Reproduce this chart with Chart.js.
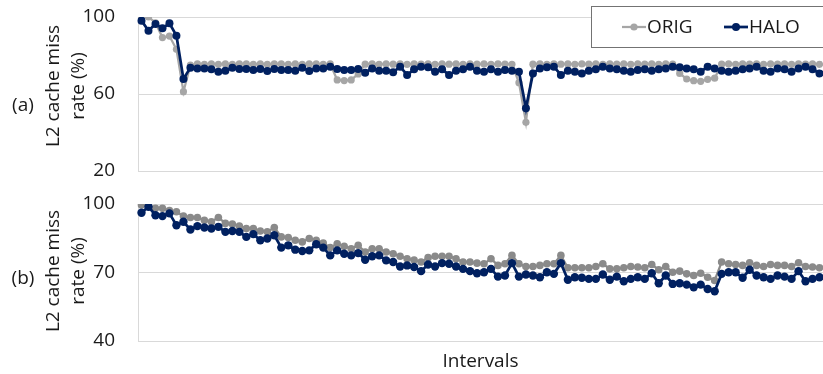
<!DOCTYPE html>
<html>
<head>
<meta charset="utf-8">
<script src="https://cdn.jsdelivr.net/npm/chart.js@4.4.1/dist/chart.umd.min.js"></script>
<style>
  html, body { margin: 0; padding: 0; background: #ffffff; }
  #wrap { position: relative; width: 823px; height: 374px; overflow: hidden; }
  .pane { position: absolute; left: 0; width: 823px; }
  #pa { top: 0; height: 186px; }
  #pb { top: 186px; height: 188px; }
</style>
</head>
<body>
<div id="wrap">
  <div class="pane" id="pa"><canvas id="ca"></canvas></div>
  <div class="pane" id="pb"><canvas id="cb"></canvas></div>
</div>
<script>
// Sampling intervals (x categories)
const intervals = Array.from({ length: 98 }, (_, i) => String(i + 1));

const seriesNames = ['ORIG', 'HALO'];
const yTitle = ['L2 cache miss', 'rate (%)'];
const xTitle = 'Intervals';

// (a) L2 cache miss rate (%)
const origA = [
  99.5, 100, 97.0, 89.3, 90.1, 83.2, 61.2,
  75.0, 75.6, 75.4, 75.6, 75.4, 75.6, 75.4, 75.6, 75.6, 75.4, 75.6, 75.4, 75.6, 75.6, 75.4, 75.6, 75.4, 75.6, 75.6, 75.4, 75.6,
  67.3, 67.0, 67.3, 70.4,
  75.5, 75.6, 75.4, 75.6, 75.5, 75.6, 75.4, 75.6, 75.5, 75.6, 75.4, 75.6, 75.5, 75.6, 75.4, 75.6, 75.5, 75.6, 75.4, 75.6, 75.5, 75.4,
  65.9, 45.3,
  75.5, 75.6, 75.4, 75.6, 75.5, 75.6, 75.4, 75.6, 75.5, 75.6, 75.4, 75.6, 75.5, 75.6, 75.4, 75.6, 75.5, 75.6, 75.4, 75.6, 75.5,
  70.7, 67.8, 66.9, 66.6, 67.6, 68.2,
  75.5, 75.6, 75.4, 75.6, 75.5, 75.6, 75.4, 75.6, 75.5, 75.6, 75.4, 75.6, 75.5, 75.6, 75.4
];
const haloA = [
  98.1, 92.9, 96.4, 94.1, 96.7, 90.3, 67.8,
  73.7, 73.3, 73.3, 72.8, 71.6, 72.1, 73.7, 73.0, 73.0, 72.5, 73.0, 71.9, 73.0, 72.5, 72.5, 72.1, 73.7, 71.9, 73.3, 73.3, 74.2, 73.0, 72.5, 72.5, 73.0, 71.1, 73.3, 72.1,
  72.1, 71.3, 74.2, 69.9, 72.8, 74.2, 73.9, 71.6, 72.8, 69.9, 72.1, 72.8, 74.2, 72.1, 71.6, 72.8, 71.6, 72.5, 72.1, 71.6,
  52.6, 70.7, 73.3, 73.9, 74.2, 69.9, 72.1, 71.6, 70.7, 72.1, 72.8,
  74.2, 73.3, 72.8, 72.1, 71.6, 72.5, 72.8, 72.1, 72.8, 73.3, 74.2, 73.9, 73.3, 72.8, 71.6, 74.2,
  73.3, 72.1, 71.6, 72.1, 72.8, 73.3, 74.2, 72.1, 71.6, 73.3, 72.8, 71.6, 73.3, 74.2, 72.8, 70.7
];

// (b) L2 cache miss rate (%)
const origB = [
  99.6, 99.1, 98.1, 98.1, 97.1, 96.6, 94.7, 94.1, 94.1, 92.9, 92.2, 94.1, 91.5, 91.2, 90.3, 89.3, 89.3,
  88.2, 87.8, 89.7, 85.6, 85.3, 84.1, 83.4, 84.9, 84.1, 82.9, 80.9, 82.6, 81.5, 80.4, 81.9, 79.0,
  80.4, 80.4, 79.0, 78.2, 77.1, 76.0, 75.5, 74.6, 76.5, 77.1, 77.1, 77.1, 76.0, 74.6, 74.6, 74.1,
  73.8, 76.0, 73.1, 73.8, 77.5, 73.8, 72.6, 72.6, 73.1, 73.8, 73.8, 77.5, 72.1, 72.1, 72.1, 72.1,
  72.6, 73.8, 71.6, 71.6, 72.1, 72.6, 72.4, 72.1, 73.5, 71.2, 72.6, 70.1, 70.6, 69.4, 68.7, 69.7, 67.9,
  66.5, 74.6, 73.8, 73.5, 73.1, 74.3, 73.1, 72.6, 73.5, 73.1, 73.1, 72.6, 74.3, 72.6, 72.4, 72.1
];
const haloB = [
  96.2, 98.8, 95.1, 94.7, 95.9, 90.7, 92.2, 88.8, 90.3, 89.7, 89.3, 90.0, 87.8, 88.2, 87.8, 85.6, 86.8,
  84.1, 84.9, 86.3, 80.9, 81.9, 80.0, 79.4, 79.7, 82.4, 80.9, 77.5, 79.7, 78.2, 77.5, 78.5, 75.6,
  77.1, 77.5, 75.3, 74.6, 72.6, 73.1, 72.4, 70.6, 73.5, 72.6, 74.1, 73.8, 72.6, 71.6, 70.6, 69.7,
  70.1, 71.6, 68.2, 68.7, 74.1, 68.2, 69.1, 68.7, 67.9, 70.1, 69.4, 74.1, 66.8, 67.9, 67.7, 67.2,
  67.2, 69.1, 66.8, 68.2, 66.2, 67.2, 67.9, 67.2, 69.7, 65.3, 68.7, 65.0, 65.3, 64.7, 63.5, 64.7, 62.8,
  61.8, 69.4, 70.1, 70.1, 67.7, 71.2, 68.7, 67.9, 67.2, 68.7, 68.2, 67.2, 70.6, 66.2, 67.2, 67.9
];

const FONT_FAMILY = "'Open Sans', 'DejaVu Sans', sans-serif";
const FONT_SIZE = 19;
const TEXT_COLOR = '#1a1a1a';
const GRID_COLOR = '#d9d9d9';
const NAVY = '#002060';

Chart.defaults.font.family = FONT_FAMILY;
Chart.defaults.font.size = FONT_SIZE;
Chart.defaults.color = TEXT_COLOR;

// Panel tag "(a)"/"(b)" and the two-line rotated y title
function sideLabels(tag, tagPos, titlePos) {
  return {
    id: 'sideLabels',
    afterDraw(chart) {
      const ctx = chart.ctx;
      ctx.save();
      ctx.fillStyle = TEXT_COLOR;
      ctx.font = FONT_SIZE + 'px ' + FONT_FAMILY;
      ctx.textAlign = 'center';
      ctx.textBaseline = 'middle';
      ctx.fillText(tag, tagPos.x, tagPos.y);
      yTitle.forEach((line, k) => {
        ctx.save();
        ctx.translate(titlePos.x[k], titlePos.y);
        ctx.rotate(-Math.PI / 2);
        ctx.fillText(line, 0, 0);
        ctx.restore();
      });
      ctx.restore();
    }
  };
}

// Boxed legend in the top-right corner of panel (a)
const boxedLegend = {
  id: 'boxedLegend',
  afterDraw(chart) {
    const ctx = chart.ctx;
    const box = { x: 591.5, y: 6.5, w: 245, h: 41 };
    ctx.save();
    ctx.fillStyle = '#ffffff';
    ctx.strokeStyle = '#737373';
    ctx.lineWidth = 1;
    ctx.fillRect(box.x, box.y, box.w, box.h);
    ctx.strokeRect(box.x, box.y, box.w, box.h);
    const cy = box.y + box.h / 2;
    const starts = [622, 724];
    chart.data.datasets.forEach((ds, k) => {
      const x0 = starts[k];
      ctx.strokeStyle = ds.borderColor;
      ctx.lineWidth = ds.borderWidth;
      ctx.beginPath();
      ctx.moveTo(x0, cy);
      ctx.lineTo(x0 + 24, cy);
      ctx.stroke();
      ctx.fillStyle = ds.borderColor;
      ctx.beginPath();
      ctx.arc(x0 + 12, cy, ds.pointRadius, 0, Math.PI * 2);
      ctx.fill();
      ctx.fillStyle = TEXT_COLOR;
      ctx.font = FONT_SIZE + 'px ' + FONT_FAMILY;
      ctx.textAlign = 'left';
      ctx.textBaseline = 'middle';
      ctx.fillText(ds.label, x0 + 25, cy + 1);
    });
    ctx.restore();
  }
};

function series(label, values, color, width, radius, order) {
  return {
    label, data: values,
    borderColor: color, backgroundColor: color,
    borderWidth: width,
    pointRadius: radius, pointHoverRadius: radius,
    pointBackgroundColor: color, pointBorderColor: color, pointBorderWidth: 0,
    tension: 0, order
  };
}

// Tick labels sit 23px left of the axis; an invisible tick mark provides the gap
function yScale(min, max, step) {
  return {
    min, max,
    ticks: { stepSize: step, padding: 0, color: TEXT_COLOR, font: { size: FONT_SIZE } },
    grid: { color: GRID_COLOR, lineWidth: 1, drawTicks: true, tickLength: 23, tickColor: 'rgba(0,0,0,0)' },
    border: { display: true, color: GRID_COLOR, width: 1 },
    afterFit(s) { s.width = 138; s.paddingTop = 0; s.paddingBottom = 0; }
  };
}

function xScale(height, titleOpts) {
  return {
    type: 'category', offset: true,
    ticks: { display: false },
    grid: { display: false, drawTicks: false },
    border: { display: true, color: GRID_COLOR, width: 1 },
    title: titleOpts,
    afterFit(s) { s.height = height; }
  };
}

const common = {
  responsive: true,
  maintainAspectRatio: false,
  animation: false,
  events: [],
  plugins: { legend: { display: false }, tooltip: { enabled: false } }
};

new Chart(document.getElementById('ca'), {
  type: 'line',
  data: {
    labels: intervals,
    datasets: [
      series(seriesNames[0], origA, '#a6a6a6', 2.25, 3.6, 1),
      series(seriesNames[1], haloA, NAVY, 2.75, 4, 0)
    ]
  },
  options: {
    ...common,
    layout: { autoPadding: false, padding: { top: 17, right: 0, bottom: 15, left: 0 } },
    scales: { x: xScale(0, { display: false }), y: yScale(20, 100, 40) }
  },
  plugins: [sideLabels('(a)', { x: 23, y: 106 }, { x: [54, 79], y: 86 }), boxedLegend]
});

new Chart(document.getElementById('cb'), {
  type: 'line',
  data: {
    labels: intervals,
    datasets: [
      series(seriesNames[0], origB, '#8a8a8a', 2.25, 3.8, 1),
      series(seriesNames[1], haloB, NAVY, 2.75, 4.2, 0)
    ]
  },
  options: {
    ...common,
    layout: { autoPadding: false, padding: { top: 18, right: 0, bottom: 0, left: 0 } },
    scales: {
      x: xScale(33, { display: true, text: xTitle, color: TEXT_COLOR, font: { size: FONT_SIZE }, padding: { top: 0, bottom: 1 } }),
      y: yScale(40, 100, 30)
    }
  },
  plugins: [sideLabels('(b)', { x: 23, y: 93 }, { x: [54, 79], y: 85 })]
});
</script>
</body>
</html>
